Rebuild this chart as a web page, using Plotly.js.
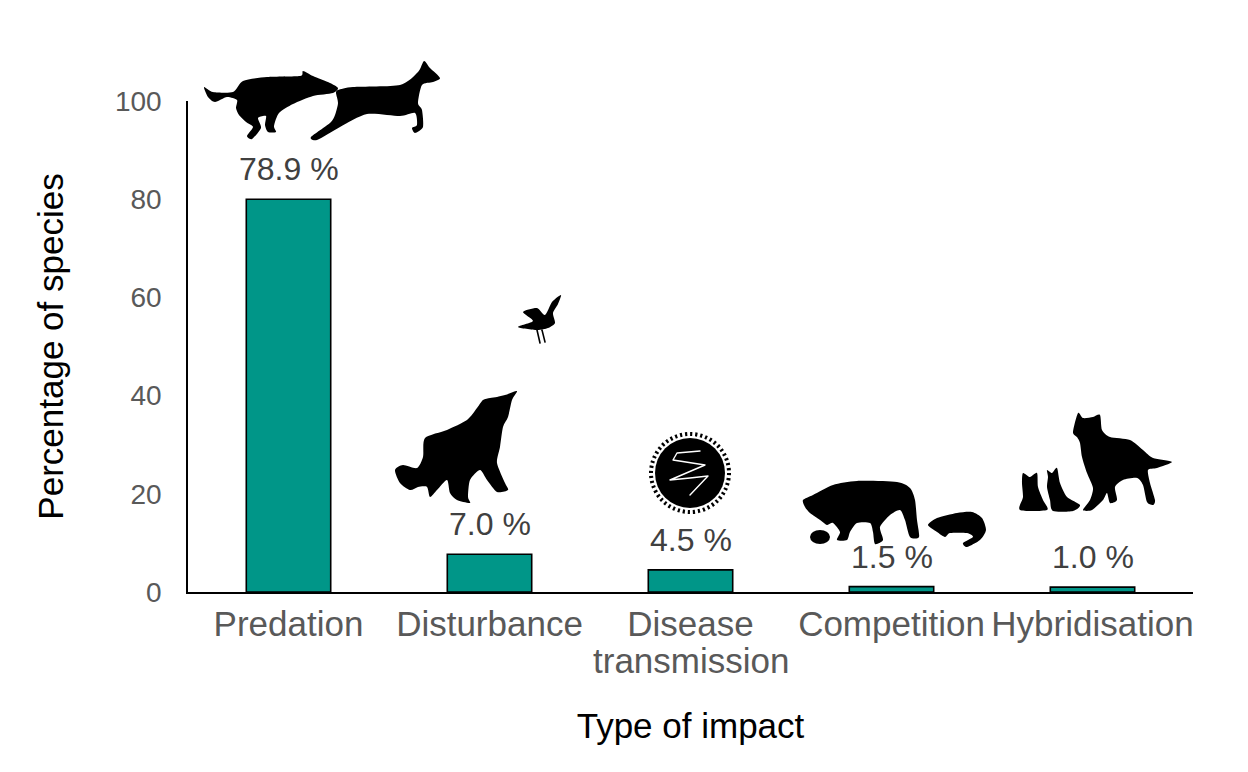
<!DOCTYPE html>
<html>
<head>
<meta charset="utf-8">
<script src="https://cdn.plot.ly/plotly-3.0.1.min.js"></script>
<style>html,body{margin:0;padding:0;background:#fff;}#chart{width:1248px;height:772px;}</style>
</head>
<body>
<div id="chart"></div>
<script>
// ---- data ----
const categories = ["Predation", "Disturbance", "Disease transmission", "Competition", "Hybridisation"];
const tickLabels = ["Predation", "Disturbance", "Disease", "Competition", "Hybridisation"];
const tickSecondLines = ["", "", "transmission", "", ""];
const barHeights = [80.0, 7.7, 4.5, 1.1, 1.0];
const valueLabels = ["78.9 %", "7.0 %", "4.5 %", "1.5 %", "1.0 %"];
const yTickValues = [0, 20, 40, 60, 80, 100];

// ---- layout geometry ----
const W = 1248, H = 772;
const M = {l: 188, r: 55, t: 101, b: 180};
const pw = W - M.l - M.r, ph = H - M.t - M.b;

const FONT = '"Liberation Sans", Arial, Helvetica, sans-serif';
const GREY = '#595959';

// ---- silhouette decorations (page pixel coordinates) ----
const wolfRun = [[204,87],[213,92],[233,92],[243,81],[267,77],[300,76],[303,71],[313,76],[330,83],[338,88],[333,93],[313,96],[293,104],[279,113],[274,126],[276,132],[268,132],[265,125],[266,116],[258,118],[261,128],[252,139],[247,136],[253,127],[246,122],[239,115],[236,108],[237,100],[227,97],[215,102],[208,97]];
const deer = [[338,90],[353,87],[400,85],[418,72],[424,61],[430,68],[440,78],[433,82],[422,85],[418,103],[422,110],[423,127],[415,133],[412,128],[417,125],[415,113],[400,116],[367,114],[340,127],[317,140],[311,137],[330,123],[335,115],[338,103],[336,93]];
const bird = [[518,327],[533,321],[523,312],[537,308],[545,315],[552,302],[561,295],[558,304],[553,313],[555,323],[548,328],[537,330]];
const howl = [[517,391],[512,400],[508,417],[503,427],[500,447],[497,463],[505,483],[508,490],[497,492],[487,480],[480,470],[470,480],[468,497],[470,503],[457,500],[450,493],[447,480],[437,490],[430,497],[427,487],[418,487],[410,490],[400,483],[395,470],[403,465],[417,468],[423,457],[425,438],[447,430],[467,420],[477,408],[483,400],[490,398],[497,397],[505,395]];
const cougar = [[803,500],[813,495],[833,485],[857,481],[897,482],[910,488],[915,500],[917,520],[919,537],[910,537],[905,520],[900,510],[890,515],[880,527],[883,540],[875,544],[873,532],[870,523],[857,523],[850,532],[847,540],[837,540],[840,532],[833,523],[827,525],[820,520],[810,513],[805,507]];
const mustelid = [[928,525],[937,518],[957,513],[972,512],[982,518],[986,530],[980,540],[967,547],[963,543],[973,537],[967,533],[950,533],[945,537],[937,532]];
const coyote = [[1078,413],[1083,418],[1093,417],[1100,415],[1102,430],[1110,437],[1130,440],[1143,450],[1153,458],[1172,462],[1157,468],[1148,470],[1150,483],[1155,500],[1153,505],[1147,502],[1143,485],[1137,478],[1123,480],[1115,487],[1117,500],[1110,503],[1107,493],[1103,500],[1092,510],[1083,510],[1090,500],[1093,488],[1087,473],[1082,457],[1080,443],[1077,437],[1073,432]];
const pup1 = [[1023,473],[1030,477],[1037,473],[1038,487],[1043,500],[1047,510],[1020,510],[1023,497],[1022,483]];
const pup2 = [[1047,470],[1052,473],[1057,468],[1060,483],[1067,497],[1080,505],[1073,511],[1053,511],[1050,500],[1047,487],[1048,477]];
const virusWave = [[700,451],[677,453],[673,460],[705,465],[670,480],[690,478],[708,476],[690,495]];

// closed Catmull-Rom smoothing for organic outlines
function smooth(pts, t) {
  const n = pts.length; let d = 'M' + pts[0][0] + ',' + pts[0][1];
  for (let i = 0; i < n; i++) {
    const p0 = pts[(i - 1 + n) % n], p1 = pts[i], p2 = pts[(i + 1) % n], p3 = pts[(i + 2) % n];
    const c1 = [p1[0] + (p2[0] - p0[0]) * t, p1[1] + (p2[1] - p0[1]) * t];
    const c2 = [p2[0] - (p3[0] - p1[0]) * t, p2[1] - (p3[1] - p1[1]) * t];
    d += 'C' + c1[0].toFixed(1) + ',' + c1[1].toFixed(1) + ' ' + c2[0].toFixed(1) + ',' + c2[1].toFixed(1) + ' ' + p2[0] + ',' + p2[1];
  }
  return "<path fill='black' d='" + d + "Z'/>";
}
function line(pts, col, w){ return "<polyline fill='none' stroke='" + col + "' stroke-width='" + w + "' stroke-linejoin='round' stroke-linecap='round' points='" + pts.map(p => p.join(',')).join(' ') + "'/>"; }

let svg = "<svg xmlns='http://www.w3.org/2000/svg' width='" + W + "' height='" + H + "' viewBox='0 0 " + W + " " + H + "'>";
[wolfRun, deer, bird, howl, cougar, mustelid, coyote, pup1, pup2].forEach(p => { svg += smooth(p, 0.12); });
svg += line([[537,330],[540,343]], 'black', 1.6) + line([[542,330],[545,342]], 'black', 1.6);
svg += "<ellipse cx='820' cy='537' rx='10' ry='7' fill='black'/>";
svg += "<circle cx='690' cy='473' r='35' fill='black'/>";
svg += "<circle cx='690' cy='473' r='39' fill='none' stroke='black' stroke-width='4' stroke-dasharray='2.2 2.9'/>";
svg += line(virusWave, 'white', 1.4);
svg += "</svg>";
const svgSrc = "data:image/svg+xml;charset=utf-8," + encodeURIComponent(svg);

// ---- traces ----
const bars = {
  type: 'bar',
  x: categories,
  y: barHeights,
  marker: {color: '#009688', line: {color: '#000000', width: 1.6}},
  hoverinfo: 'x+y',
  showlegend: false
};

const annotations = categories.map((c, i) => ({
  x: c, y: barHeights[i], xref: 'x', yref: 'y',
  text: valueLabels[i], showarrow: false,
  yanchor: 'bottom', yshift: 10,
  font: {family: FONT, size: 32, color: '#404040'}
}));
categories.forEach((c, i) => {
  if (tickSecondLines[i]) annotations.push({
    x: c, xref: 'x', y: -(660 - 592) / ph, yref: 'paper',
    text: tickSecondLines[i], showarrow: false, yanchor: 'middle',
    font: {family: FONT, size: 35, color: GREY}
  });
});

const layout = {
  width: W, height: H,
  margin: M,
  paper_bgcolor: '#ffffff', plot_bgcolor: '#ffffff',
  bargap: 0.58,
  showlegend: false,
  font: {family: FONT},
  xaxis: {
    type: 'category',
    tickvals: categories, ticktext: tickLabels,
    showline: true, linecolor: '#000000', linewidth: 1.5,
    ticks: '', showgrid: false, zeroline: false,
    tickfont: {family: FONT, size: 35, color: GREY},
    title: {text: 'Type of impact', font: {family: FONT, size: 35, color: '#000000'}, standoff: 72}
  },
  yaxis: {
    range: [0, 100], tickvals: yTickValues,
    showline: true, linecolor: '#000000', linewidth: 1.5,
    ticks: '', showgrid: false, zeroline: false,
    ticklabelstandoff: 19,
    tickfont: {family: FONT, size: 28, color: GREY},
    title: {text: 'Percentage of species', font: {family: FONT, size: 35, color: '#000000'}, standoff: 41}
  },
  annotations: annotations,
  images: [{
    source: svgSrc, xref: 'paper', yref: 'paper',
    x: -M.l / pw, y: 1 + M.t / ph, sizex: W / pw, sizey: H / ph,
    xanchor: 'left', yanchor: 'top', sizing: 'stretch', layer: 'above'
  }]
};

Plotly.newPlot('chart', [bars], layout, {displayModeBar: false, responsive: false});
</script>
</body>
</html>
